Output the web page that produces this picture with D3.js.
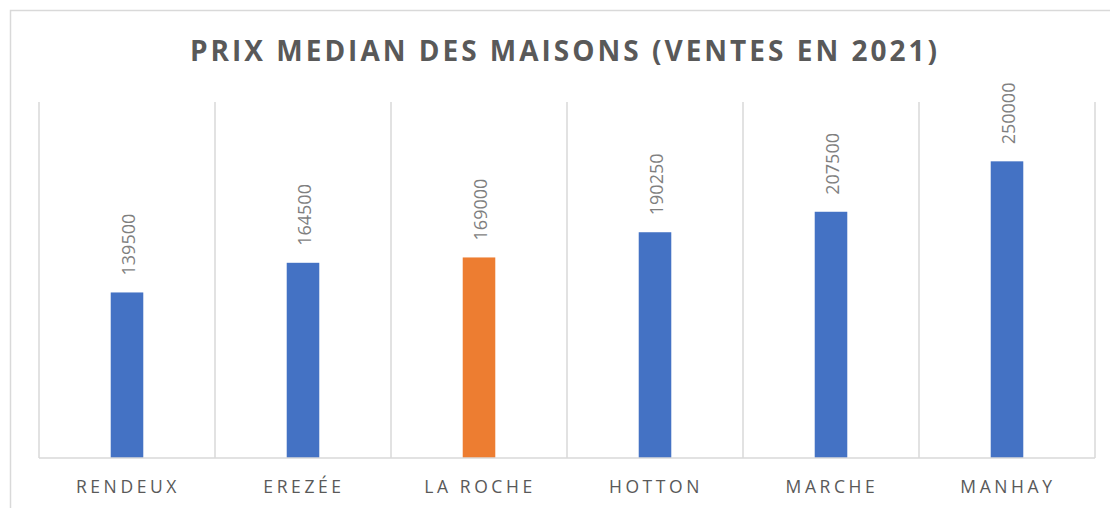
<!DOCTYPE html>
<html>
<head>
<meta charset="utf-8">
<script src="https://cdn.jsdelivr.net/npm/d3@7"></script>
<style>
  html, body { margin: 0; padding: 0; background: #ffffff; }
  svg { display: block; }
</style>
</head>
<body>
<svg id="chart" width="1110" height="508"></svg>
<script>
// Median house price per commune, sales in 2021
const communes = ["RENDEUX", "EREZÉE", "LA ROCHE", "HOTTON", "MARCHE", "MANHAY"];
const prixMedian = [139500, 164500, 169000, 190250, 207500, 250000];
const highlighted = ["LA ROCHE"];
const titre = "PRIX MEDIAN DES MAISONS (VENTES EN 2021)";

const W = 1110, H = 508;
const plot = { left: 39, right: 1095, top: 102, bottom: 458 };

const svg = d3.select("#chart");

// chart frame (cropped at right and bottom)
svg.append("rect")
  .attr("x", 10.5).attr("y", 10.5)
  .attr("width", 1110).attr("height", 520)
  .attr("fill", "#ffffff")
  .attr("stroke", "#d9d9d9").attr("stroke-width", 1.5);

// title
svg.append("text")
  .attr("x", 565).attr("y", 61)
  .attr("text-anchor", "middle")
  .attr("font-family", "'Open Sans', sans-serif")
  .attr("font-weight", 700)
  .attr("font-size", 28)
  .attr("letter-spacing", 3)
  .attr("fill", "#595959")
  .text(titre);

const x = d3.scaleBand()
  .domain(communes)
  .range([plot.left, plot.right])
  .padding(0);

const y = d3.scaleLinear()
  .domain([0, 300000])
  .range([plot.bottom, plot.top]);

// vertical category separators
const bounds = communes.map(c => x(c)).concat([plot.right]);
svg.append("g").selectAll("line")
  .data(bounds)
  .join("line")
  .attr("x1", d => d).attr("x2", d => d)
  .attr("y1", plot.top).attr("y2", plot.bottom)
  .attr("stroke", "#d9d9d9").attr("stroke-width", 1.5);

// bars
const barW = x.bandwidth() * 0.185;
svg.append("g").selectAll("rect")
  .data(communes)
  .join("rect")
  .attr("x", (c) => x(c) + (x.bandwidth() - barW) / 2)
  .attr("y", (c, i) => y(prixMedian[i]))
  .attr("width", barW)
  .attr("height", (c, i) => y(0) - y(prixMedian[i]))
  .attr("fill", c => highlighted.includes(c) ? "#ED7D31" : "#4472C4");

// baseline
svg.append("line")
  .attr("x1", plot.left).attr("x2", plot.right)
  .attr("y1", plot.bottom).attr("y2", plot.bottom)
  .attr("stroke", "#d9d9d9").attr("stroke-width", 1.5);

// value labels, rotated
svg.append("g").selectAll("text")
  .data(communes)
  .join("text")
  .attr("transform", (c, i) => {
    const cx = x(c) + x.bandwidth() / 2 + 2;
    const ty = y(prixMedian[i]) - 17;
    return `translate(${cx},${ty}) rotate(-90)`;
  })
  .attr("dy", "0.36em")
  .attr("text-anchor", "start")
  .attr("font-family", "'Open Sans', sans-serif")
  .attr("font-size", 18)
  .attr("fill", "#7f7f7f")
  .text((c, i) => prixMedian[i]);

// category labels
svg.append("g").selectAll("text")
  .data(communes)
  .join("text")
  .attr("x", c => x(c) + x.bandwidth() / 2 + 1)
  .attr("y", 493)
  .attr("text-anchor", "middle")
  .attr("font-family", "'Open Sans', sans-serif")
  .attr("font-size", 17.5)
  .attr("letter-spacing", 3.6)
  .attr("fill", "#595959")
  .text(c => c);
</script>
</body>
</html>
